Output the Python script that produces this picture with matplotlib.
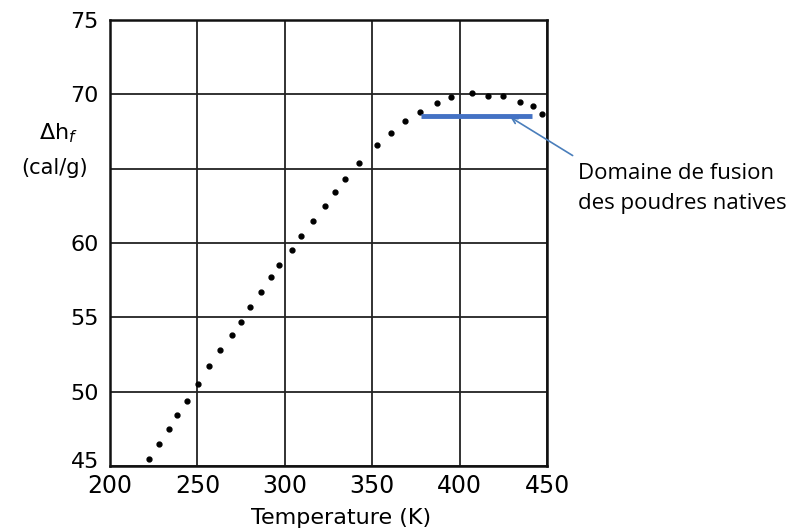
import matplotlib
matplotlib.use("Agg")
import matplotlib.pyplot as plt
import matplotlib.transforms as mtransforms

# data
temp_k = [222.5, 227.8, 233.6, 238.5, 243.9, 250.3, 256.8, 263.1, 269.6, 274.9,
          280.1, 286.4, 292.3, 296.9, 303.9, 309.4, 316.0, 322.8, 328.9, 334.6,
          342.6, 352.9, 361.0, 368.9, 377.3, 387.0, 395.3, 407.1, 416.1, 424.8,
          434.6, 441.8, 447.3]
dh_f = [45.5, 46.5, 47.5, 48.4, 49.4, 50.5, 51.7, 52.8, 53.8, 54.7,
        55.7, 56.7, 57.7, 58.5, 59.5, 60.5, 61.5, 62.5, 63.4, 64.3,
        65.4, 66.6, 67.4, 68.2, 68.8, 69.4, 69.8, 70.1, 69.9, 69.9,
        69.5, 69.2, 68.7]

x_ticks = [200, 250, 300, 350, 400, 450]
y_ticks = [45, 50, 55, 60, 65, 70, 75]
y_tick_labels = ["45", "50", "55", "60", "", "70", "75"]

fusion_range = [377.7, 441.6]
fusion_level = 68.56

fig = plt.figure(figsize=(8.01, 5.31), dpi=100)
ax = fig.add_axes([110 / 801, 1 - 466 / 531, 437 / 801, 446 / 531])

ax.plot(temp_k, dh_f, "o", color="black", markersize=3.5, zorder=3)
ax.plot(fusion_range, [fusion_level, fusion_level], color="#4472c4",
        linewidth=3.5, solid_capstyle="butt", zorder=4)

ax.set_xlim(200, 450)
ax.set_ylim(45, 75)
ax.set_xticks(x_ticks)
ax.set_yticks(y_ticks)
ax.set_yticklabels(y_tick_labels)
ax.tick_params(axis="x", length=0, pad=6, labelsize=17)
ax.tick_params(axis="y", length=0, pad=8, labelsize=16)
ax.grid(True, color="#222222", linewidth=1.3)
for s in ax.spines.values():
    s.set_linewidth(1.8)
    s.set_color("#111111")

# lift the "45" a little so it clears the "200" below it
lbl45 = ax.get_yticklabels()[0]
lbl45.set_transform(lbl45.get_transform() +
                    mtransforms.ScaledTranslation(0, 6 / 100, fig.dpi_scale_trans))

fig.text(58 / 801, 1 - 133 / 531, r"$\Delta$h$_f$", ha="center", va="center", fontsize=16)
fig.text(55 / 801, 1 - 168 / 531, "(cal/g)", ha="center", va="center", fontsize=15)
fig.text(341 / 801, 1 - 518 / 531, "Temperature (K)", ha="center", va="center", fontsize=16)

ax.annotate("", xy=(427.7, fusion_level), xycoords="data",
            xytext=(575, 531 - 157), textcoords="figure pixels",
            arrowprops=dict(arrowstyle="->", color="#4a7ebb", lw=1.2))
fig.text(578 / 801, 1 - 173 / 531, "Domaine de fusion", ha="left", va="center",
         fontsize=16, family="Open Sans")
fig.text(578 / 801, 1 - 203 / 531, "des poudres natives", ha="left", va="center",
         fontsize=16, family="Open Sans")

fig.savefig("out.png", dpi=100)
